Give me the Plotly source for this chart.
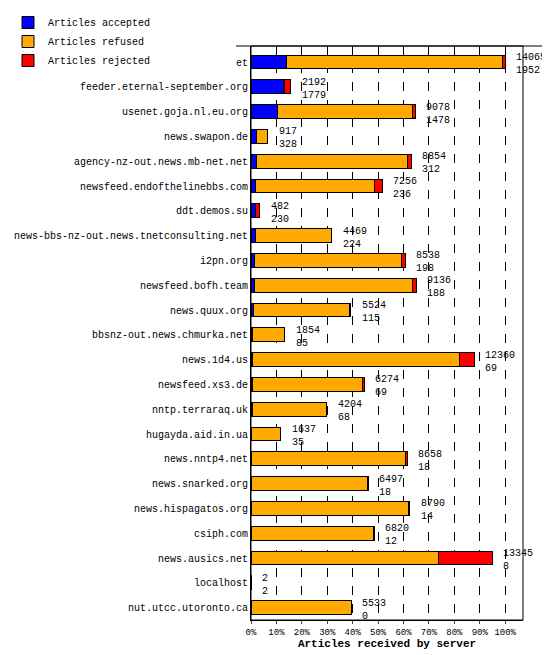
import plotly.graph_objects as go

servers = ["bbs-nz-out.news.weretis.net","feeder.eternal-september.org","usenet.goja.nl.eu.org",
"news.swapon.de","agency-nz-out.news.mb-net.net","newsfeed.endofthelinebbs.com","ddt.demos.su",
"news-bbs-nz-out.news.tnetconsulting.net","i2pn.org","newsfeed.bofh.team","news.quux.org",
"bbsnz-out.news.chmurka.net","news.1d4.us","newsfeed.xs3.de","nntp.terraraq.uk","hugayda.aid.in.ua",
"news.nntp4.net","news.snarked.org","news.hispagatos.org","csiph.com","news.ausics.net","localhost",
"nut.utcc.utoronto.ca"]
total = [14065,2192,9078,917,8854,7256,482,4469,8538,9136,5524,1854,12360,6274,4204,1637,8658,6497,8790,6820,13345,2,5533]
accepted = [1952,1779,1478,328,312,236,230,224,198,188,115,85,69,69,68,35,18,18,14,12,8,2,0]
rejected = [140,313,150,0,200,440,252,0,200,200,100,0,830,80,0,30,100,50,100,50,2950,0,0]
refused = [t-a-r for t,a,r in zip(total,accepted,rejected)]

mx = max(total)
pct = lambda v: [x/mx*100 for x in v]
font = "Liberation Mono, Courier New, monospace"
fig = go.Figure()
for name, vals, col in [("Articles accepted", accepted, "#0000ff"),
                        ("Articles refused", refused, "#ffaa00"),
                        ("Articles rejected", rejected, "#ff0000")]:
    fig.add_bar(y=servers, x=pct(vals), orientation="h", name=name,
                marker=dict(color=col, line=dict(color="black", width=1)), width=0.55)
for s, t, a in zip(servers, total, accepted):
    fig.add_annotation(x=t/mx*100, y=s, text=f"{t}<br>{a}", showarrow=False, xanchor="left",
                       xshift=9, yshift=-2, font=dict(size=10, family=font, color="black"), align="left")
fig.update_layout(barmode="stack", width=550, height=655, plot_bgcolor="white", paper_bgcolor="white",
    margin=dict(l=243, r=35, t=38, b=43, autoexpand=False), bargap=0.45,
    font=dict(family=font, size=10, color="black"),
    legend=dict(orientation="h", x=0.0, y=1.0, xref="container", yref="container", yanchor="top",
                font=dict(size=10), entrywidth=183, entrywidthmode="pixels", traceorder="normal"),
    xaxis=dict(range=[0, 107], tickvals=list(range(0, 101, 10)), ticktext=[f"{v}%" for v in range(0, 101, 10)],
               tickangle=0, automargin=False,
               showgrid=True, gridcolor="black", griddash="dash", gridwidth=1, showline=True, linecolor="black",
               ticks="outside", ticklen=3, tickfont=dict(size=9), zeroline=False,
               title=dict(text="<b>Articles received by server</b>", font=dict(size=11), standoff=0)),
    yaxis=dict(autorange="reversed", showline=True, linecolor="black", ticks="", automargin=False,
               tickfont=dict(size=10)),
    shapes=[dict(type="rect", xref="paper", yref="paper", x0=0, x1=1, y0=0, y1=1, line=dict(color="black", width=1)),
            dict(type="line", xref="paper", yref="paper", x0=-1, x1=1.13, y0=1, y1=1, line=dict(color="black", width=1))])
fig.write_html("out.html")
